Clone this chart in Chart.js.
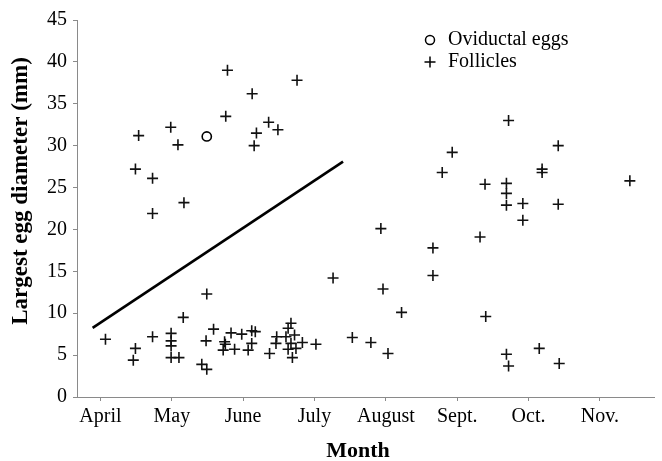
<!DOCTYPE html>
<html>
<head>
<meta charset="utf-8">
<script src="https://cdn.jsdelivr.net/npm/chart.js@4/dist/chart.umd.min.js"></script>
<style>
  html, body { margin: 0; padding: 0; background: #fff; }
  #wrap { width: 662px; height: 461px; }
</style>
</head>
<body>
<div id="wrap"><canvas id="c" width="662" height="461"></canvas></div>
<script>
// Month tick labels; x values are months counted from April (0 = April).
const monthLabels = ['April', 'May', 'June', 'July', 'August', 'Sept.', 'Oct.', 'Nov.'];

// Follicle diameters (mm) against time of collection.
const follicleMonth = [
  0.07, 0.49, 0.46, 0.73, 0.535, 0.49, 0.73, 0.73,
  0.985, 1.086, 1.17, 0.99, 0.99, 0.99, 0.99, 1.10, 1.16, 1.49, 1.42, 1.49, 1.48, 1.585,
  1.78, 1.756, 2.126, 2.755, 2.357, 2.487, 2.186, 2.154,
  1.83, 1.98, 2.12, 2.17, 1.74, 1.75, 1.72, 1.88, 2.12, 2.07, 2.37, 2.46,
  2.67, 2.63, 2.47, 2.60, 2.72, 2.67, 2.83, 3.02, 2.63, 2.74, 2.69,
  3.53, 3.79, 3.26,
  3.93, 3.96, 4.22, 4.03,
  4.66, 4.66, 4.79, 4.93, 5.32, 5.39, 5.40,
  5.72, 5.69, 5.69, 5.69, 5.92, 5.92, 6.19, 6.19, 6.416, 6.416, 5.69, 5.72, 6.15, 6.43,
  7.42
];
const follicleSize = [
  6.9, 5.8, 4.4, 7.2, 31.2, 27.2, 26.1, 21.9,
  32.2, 30.1, 23.2, 7.6, 6.7, 6.1, 4.7, 4.7, 9.5, 12.3, 3.9, 3.3, 6.7, 8.1,
  39.0, 33.5, 36.2, 37.8, 32.8, 31.9, 31.5, 30.0,
  7.65, 7.5, 7.9, 7.8, 6.6, 6.3, 5.6, 5.7, 6.4, 5.6, 5.2, 6.4,
  8.8, 8.2, 7.2, 7.2, 7.4, 6.4, 6.5, 6.3, 5.7, 5.8, 4.7,
  7.1, 6.5, 14.2,
  20.1, 12.9, 10.1, 5.2,
  17.8, 14.5, 26.8, 29.2, 19.1, 25.4, 9.6,
  33.0, 25.5, 24.3, 22.9, 23.1, 21.1, 27.2, 26.8, 30.0, 23.0, 5.1, 3.7, 5.8, 4.0,
  25.8
];

// Oviductal eggs (mm).
const oviductMonth = [1.49];
const oviductSize = [31.1];

// Fitted trend line, end points.
const trendMonth = [-0.11, 3.40];
const trendSize = [8.25, 28.1];

const yTicks = [0, 5, 10, 15, 20, 25, 30, 35, 40, 45];

const toPoints = (xs, ys) => xs.map((x, i) => ({ x: x, y: ys[i] }));

const SERIF = '"Liberation Serif", "Times New Roman", serif';
const AXIS_GREY = '#8a8a8a';

// Axis titles and the legend box are painted after the chart itself.
const decorations = {
  id: 'decorations',
  afterDraw(chart) {
    const ctx = chart.ctx;
    ctx.save();
    ctx.fillStyle = '#000';
    ctx.strokeStyle = '#000';

    // x-axis title
    ctx.font = 'bold 22px ' + SERIF;
    ctx.textAlign = 'center';
    ctx.textBaseline = 'alphabetic';
    ctx.fillText('Month', 358, 457);

    // y-axis title
    ctx.save();
    ctx.translate(27, 191);
    ctx.rotate(-Math.PI / 2);
    ctx.font = 'bold 23px ' + SERIF;
    ctx.textAlign = 'center';
    ctx.textBaseline = 'alphabetic';
    ctx.fillText('Largest egg diameter (mm)', 0, 0);
    ctx.restore();

    // legend
    ctx.lineWidth = 1.5;
    ctx.beginPath();
    ctx.arc(430, 40, 4.5, 0, Math.PI * 2);
    ctx.stroke();
    ctx.beginPath();
    ctx.moveTo(424.5, 62); ctx.lineTo(435.5, 62);
    ctx.moveTo(430, 56.5); ctx.lineTo(430, 67.5);
    ctx.stroke();
    ctx.font = '20px ' + SERIF;
    ctx.textAlign = 'left';
    ctx.textBaseline = 'middle';
    ctx.fillText('Oviductal eggs', 448, 40);
    ctx.fillText('Follicles', 448, 62);
    ctx.restore();
  }
};

new Chart(document.getElementById('c'), {
  type: 'scatter',
  data: {
    datasets: [
      {
        label: 'Trend',
        data: toPoints(trendMonth, trendSize),
        showLine: true,
        borderColor: '#000',
        borderWidth: 2.6,
        pointRadius: 0,
        fill: false
      },
      {
        label: 'Oviductal eggs',
        data: toPoints(oviductMonth, oviductSize),
        pointStyle: 'circle',
        pointRadius: 4.6,
        pointBorderWidth: 1.6,
        pointBorderColor: '#000',
        pointBackgroundColor: 'rgba(0,0,0,0)'
      },
      {
        label: 'Follicles',
        data: toPoints(follicleMonth, follicleSize),
        pointStyle: 'cross',
        pointRadius: 5.5,
        pointBorderWidth: 1.6,
        pointBorderColor: '#111',
        pointBackgroundColor: '#111'
      }
    ]
  },
  options: {
    responsive: false,
    animation: false,
    events: [],
    layout: { padding: { top: 20, right: 1, left: 0, bottom: 0 } },
    plugins: {
      legend: { display: false },
      tooltip: { enabled: false }
    },
    scales: {
      x: {
        type: 'linear',
        min: -0.329,
        max: 7.771,
        afterBuildTicks: s => { s.ticks = monthLabels.map((_, i) => ({ value: i })); },
        afterFit: s => { s.height = 64; },
        ticks: {
          callback: v => monthLabels[v],
          font: { family: SERIF, size: 20 },
          color: '#000',
          padding: 4,
          autoSkip: false,
          maxRotation: 0
        },
        grid: { drawOnChartArea: false, tickLength: 4, color: AXIS_GREY, lineWidth: 1 },
        border: { color: AXIS_GREY, width: 1 }
      },
      y: {
        min: 0,
        max: 45,
        afterBuildTicks: s => { s.ticks = yTicks.map(v => ({ value: v })); },
        afterFit: s => { s.width = 77; },
        ticks: {
          font: { family: SERIF, size: 20 },
          color: '#000',
          padding: 6
        },
        grid: { drawOnChartArea: false, tickLength: 4, color: AXIS_GREY, lineWidth: 1 },
        border: { color: AXIS_GREY, width: 1 }
      }
    }
  },
  plugins: [decorations]
});
</script>
</body>
</html>
